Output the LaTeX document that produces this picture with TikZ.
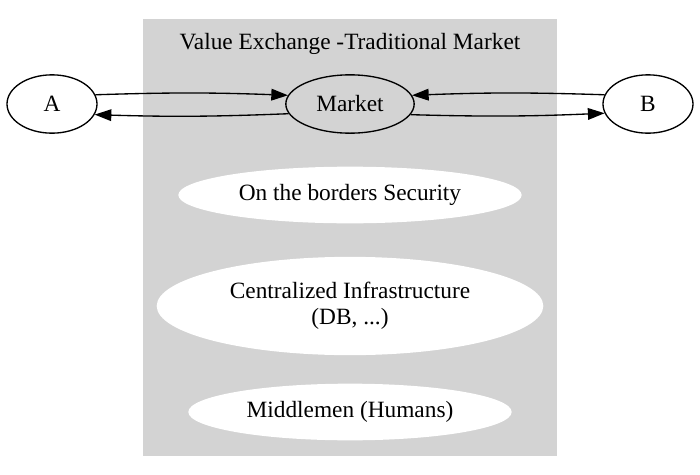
\documentclass[tikz,border=0pt]{standalone}
\usepackage{fontspec}
\setmainfont{Liberation Serif}
\usetikzlibrary{positioning,shapes.geometric,arrows.meta}
\definecolor{clustergray}{RGB}{211,211,211}
\tikzset{
	>={Triangle[length=10pt,width=7pt]},
}

\begin{document}
\begin{tikzpicture}[
		x=0.6pt, y=-0.6pt,
		font=\fontsize{14}{17.4}\selectfont,
		actor/.style={
			ellipse, draw, thick, inner sep=0pt,
			minimum width=#1, minimum height=35pt,
		},
		feature/.style={
			ellipse, fill=white, inner sep=0pt, align=center,
			minimum width=#1, minimum height=34pt,
		},
		link/.style={->, thick},
	]
	\useasboundingbox (0,0) rectangle (700,475);
	\fill[clustergray] (143,19) rectangle (557,456);
	\node(title) at (350,44) {Value Exchange -Traditional Market};
	\draw
		node(A)[actor=54pt] at (52,104) {A}
		node(mkt)[actor=77pt,fill=clustergray] at (350,104) {Market}
		node(B)[actor=54pt] at (648,104) {B}
	;
	\node(sec)[feature=206pt] at (350,195) {On the borders Security};
	\node(infra)[feature=232pt,minimum height=59pt] at (350,306) {Centralized Infrastructure\\[-1.6pt](DB, ...)};
	\node(mid)[feature=194pt] at (350,412) {Middlemen (Humans)};
	\draw[link] (A.12) to[bend left=2] (mkt.172);
	\draw[link] (mkt.189) to[bend left=2] (A.-14);
	\draw[link] (B.168) to[bend right=2] (mkt.8);
	\draw[link] (mkt.-10) to[bend right=2] (B.-168);
\end{tikzpicture}
\end{document}
